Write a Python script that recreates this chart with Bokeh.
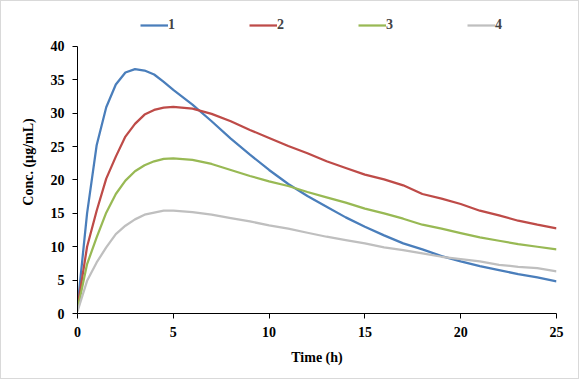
from bokeh.plotting import figure
from bokeh.models import Range1d, Legend, LegendItem, FixedTicker
from bokeh.embed import file_html
from bokeh.resources import INLINE

time_h = [0, 0.5, 1, 1.5, 2, 2.5, 3, 3.5, 4, 4.5, 5,
          6, 7, 8, 9, 10, 11, 12, 13, 14, 15, 16, 17, 18, 19, 20, 21, 22, 23, 24, 25]

series_1 = [1.0, 15.0, 25.2, 30.9, 34.3, 36.1, 36.6, 36.4, 35.8, 34.7, 33.5,
            31.3, 28.8, 26.2, 23.8, 21.5, 19.4, 17.6, 16.0, 14.4, 13.0, 11.7, 10.5, 9.6, 8.6, 7.8, 7.1, 6.5, 5.9, 5.4, 4.8]
series_2 = [0.9, 10.0, 15.4, 20.2, 23.5, 26.5, 28.4, 29.8, 30.5, 30.85, 30.95,
            30.7, 29.9, 28.8, 27.5, 26.3, 25.1, 24.0, 22.8, 21.8, 20.8, 20.1, 19.2, 17.9, 17.2, 16.4, 15.4, 14.7, 13.9, 13.3, 12.75]
series_3 = [0.6, 7.4, 11.4, 15.1, 17.9, 19.9, 21.3, 22.2, 22.8, 23.15, 23.25,
            23.0, 22.4, 21.5, 20.6, 19.8, 19.1, 18.2, 17.4, 16.6, 15.7, 15.0, 14.2, 13.3, 12.7, 12.05, 11.4, 10.9, 10.4, 10.0, 9.6]
series_4 = [0.3, 4.9, 7.65, 9.9, 11.9, 13.15, 14.1, 14.8, 15.1, 15.4, 15.4,
            15.2, 14.8, 14.3, 13.8, 13.2, 12.7, 12.1, 11.5, 11.0, 10.5, 9.9, 9.5, 9.0, 8.5, 8.15, 7.8, 7.3, 7.0, 6.8, 6.3]

labels = ["1", "2", "3", "4"]
colors = ["#4A7EBB", "#BE4B48", "#98B954", "#BFBFBF"]
x_ticks = [0, 5, 10, 15, 20, 25]
y_ticks = [0, 5, 10, 15, 20, 25, 30, 35, 40]

FONT = "Liberation Serif"

# frame spans from y=0 up past 40 so the legend fits inside it (axis bounded to 0..40)
p = figure(width=579, height=379, output_backend="svg", toolbar_location=None,
           x_range=Range1d(0, 25), y_range=Range1d(0, 45.39),
           min_border_left=76, min_border_right=24, min_border_top=9, min_border_bottom=67)
p.styles = {"border": "1px solid #D9D9D9", "box-sizing": "border-box"}
p.outline_line_color = None
p.xgrid.visible = False
p.ygrid.visible = False

renderers = []
for ys, c in zip([series_1, series_2, series_3, series_4], colors):
    r = p.line(time_h, ys, line_color=c, line_width=2.25)
    renderers.append(r)

for ax in (p.xaxis[0], p.yaxis[0]):
    ax.axis_line_color = "black"
    ax.axis_line_width = 1
    ax.major_tick_line_color = "black"
    ax.major_tick_in = 0
    ax.major_tick_out = 5
    ax.minor_tick_line_color = None
    ax.major_label_text_font = FONT
    ax.major_label_text_font_style = "bold"
    ax.major_label_text_font_size = "14px"
    ax.major_label_text_color = "black"
    ax.axis_label_text_font = FONT
    ax.axis_label_text_font_style = "bold"
    ax.axis_label_text_font_size = "14px"
    ax.axis_label_text_color = "black"

p.xaxis[0].ticker = FixedTicker(ticks=x_ticks)
p.yaxis[0].ticker = FixedTicker(ticks=y_ticks)
p.yaxis[0].bounds = (0, 40)
p.xaxis[0].axis_label = "Time (h)"
p.yaxis[0].axis_label = "Conc. (µg/mL)"
p.xaxis[0].major_label_standoff = 8
p.yaxis[0].major_label_standoff = 8
p.xaxis[0].axis_label_standoff = 10
p.yaxis[0].axis_label_standoff = 12

legend = Legend(items=[LegendItem(label=l, renderers=[r]) for l, r in zip(labels, renderers)],
                orientation="horizontal", location=(63, 280),
                label_text_font=FONT, label_text_font_style="bold", label_text_font_size="14px",
                glyph_width=28, glyph_height=16, label_standoff=0, label_width=20,
                spacing=61, padding=0, margin=0, border_line_color=None,
                background_fill_alpha=0)
p.add_layout(legend, "center")

open("out.html", "w").write(file_html(p, INLINE))
